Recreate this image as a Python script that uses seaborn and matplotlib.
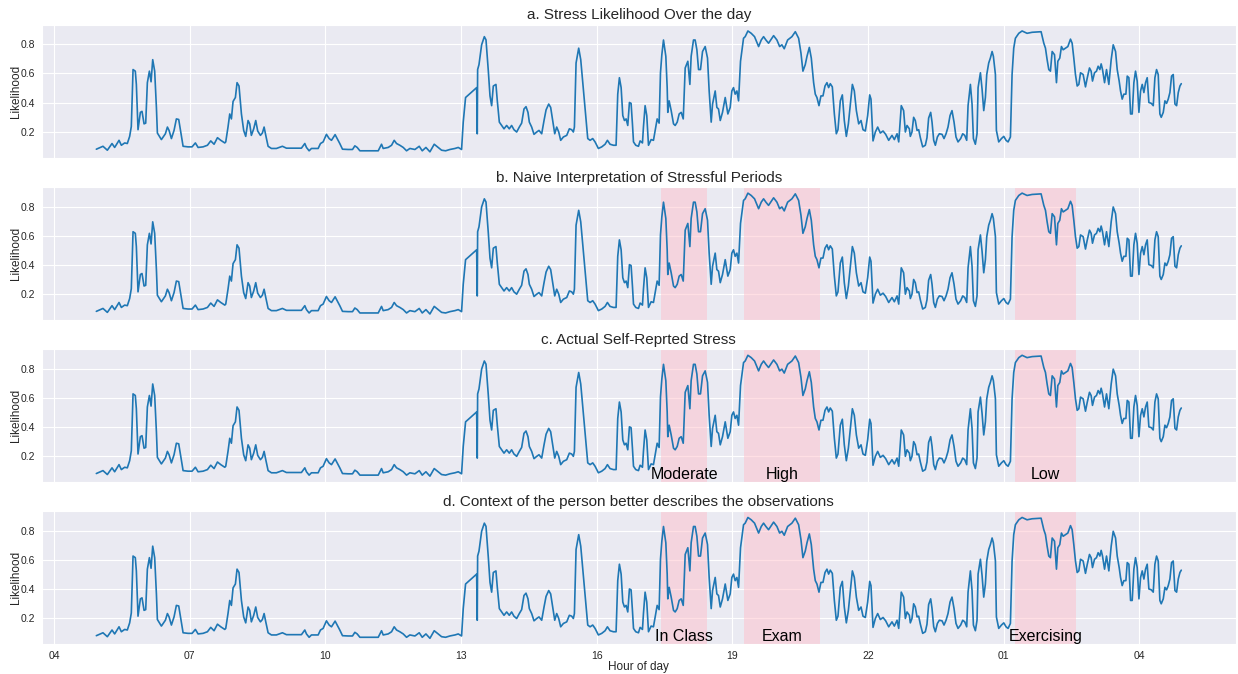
import pandas as pd
import matplotlib
matplotlib.use("Agg")
import matplotlib.pyplot as plt
import matplotlib.dates as mdates
import seaborn as sns

# minutes after 04:00 of the first day
minutes = [
    56.3, 65.1, 70.9, 77.1, 80.6, 86.4, 89.5, 93.9, 97.4, 100.5, 102.7, 105.0, 108.0, 109.4,
    111.6, 114.7, 116.9, 119.6, 121.8, 124.0, 126.7, 128.9, 131.1, 133.7, 136.0, 137.3, 140.4,
    142.6, 147.9, 150.6, 152.8, 155.9, 159.4, 162.5, 165.6, 168.3, 171.4, 178.0, 183.3, 187.7,
    191.3, 197.9, 203.7, 208.1, 212.5, 217.0, 221.4, 226.7,
    228.0, 231.0, 233.3, 235.5, 237.7, 240.8, 243.0, 245.6, 248.8, 251.8, 254.5, 257.6, 259.8,
    262.0, 265.1, 267.8, 270.4, 274.0, 276.6, 278.9, 281.1, 284.2, 288.6, 295.2, 303.2, 308.5,
    317.4, 328.4, 332.9, 335.1, 338.6, 341.7, 350.6, 353.7, 357.2, 361.6, 365.2, 368.3, 373.1,
    375.8, 379.3, 382.9, 390.4, 396.2, 399.3, 402.4, 406.0, 410.4,
    417.0, 430.3, 434.7, 436.9, 443.5, 448.0, 451.5, 454.6, 459.0, 463.5, 467.9, 472.3, 479.0,
    484.7, 488.7, 493.6, 498.9, 504.6, 509.0, 514.4, 519.7, 525.4, 532.1, 536.5, 540.9, 543.1,
    546.2, 560.9, 561.7, 562.2, 564.0, 567.5, 571.1, 573.3, 576.4, 578.6, 580.8,
    583.0, 586.5, 588.3, 591.0, 594.1, 597.2, 600.7, 604.2, 607.3, 610.4, 614.0, 617.5, 620.6,
    623.7, 626.4, 629.0, 630.8, 633.9, 637.0, 640.6, 643.6, 647.2, 650.3, 653.0, 656.5, 659.1,
    661.8, 664.5, 667.1, 669.8, 672.4, 676.0, 680.4, 683.9, 687.0, 689.2, 690.6, 692.8, 696.3,
    699.0, 702.5, 706.1, 708.3, 711.4, 714.9, 718.0, 722.4, 726.9, 731.3, 734.4, 737.9, 742.4,
    745.9, 748.1, 750.3, 752.6, 754.8, 757.0, 759.2, 761.4, 763.6, 765.8,
    767.6, 769.0, 772.0, 775.6, 777.8, 780.9, 782.2, 784.4, 786.6, 788.9, 792.4, 795.5, 797.7,
    800.4, 803.0, 804.8, 806.6, 808.8, 811.9, 813.7, 814.5, 816.3, 819.0, 822.1, 824.3, 827.0,
    829.6, 832.3, 835.0, 837.6, 841.1, 843.8, 845.5, 848.6, 850.8, 853.1, 855.3, 857.9, 860.6,
    864.1, 867.2, 869.4, 872.1, 873.9, 877.4, 879.6, 881.8, 884.1, 887.1, 890.7, 894.2, 897.3,
    899.5, 901.7, 903.9, 906.2, 908.4, 911.0, 915.0, 917.2, 920.8, 925.2, 929.6, 935.0, 938.5,
    941.6, 944.7,
    948.2, 954.9, 959.3, 962.9, 965.9, 969.0, 973.5, 979.2, 983.7, 988.1, 991.2, 993.8, 996.9,
    999.2, 1002.3, 1004.9, 1008.0, 1010.2, 1012.4, 1015.1, 1017.7, 1020.4, 1023.1, 1025.7,
    1027.9, 1030.1, 1032.8, 1035.5, 1038.1, 1040.3, 1043.4, 1046.1, 1048.7, 1051.4, 1054.1,
    1056.7, 1059.4, 1062.0, 1064.7, 1067.8, 1070.9, 1073.5, 1076.6, 1079.7, 1082.4, 1084.1,
    1086.8, 1089.9, 1093.0, 1096.5, 1100.1, 1103.6, 1107.6, 1112.0, 1115.1, 1118.7, 1120.9,
    1124.3, 1127.4, 1129.7, 1131.9, 1135.0, 1136.3, 1138.5, 1140.7, 1142.9, 1145.2, 1147.4,
    1149.6, 1152.7, 1156.2, 1158.4, 1160.6, 1163.3, 1165.1, 1167.3, 1169.5, 1172.2, 1174.8,
    1178.4, 1181.0, 1183.7, 1186.3, 1189.0, 1191.6, 1194.3, 1196.9, 1199.6, 1203.1, 1205.8,
    1208.5, 1211.1, 1212.9, 1216.0, 1218.2, 1220.0, 1222.6, 1224.8, 1226.2, 1229.3, 1231.5,
    1233.7, 1235.9, 1237.7, 1240.3, 1242.5, 1244.8, 1246.5, 1249.2, 1250.5, 1253.6, 1257.2,
    1260.3, 1263.3, 1266.0, 1269.1, 1271.3, 1273.5, 1275.7, 1280.2, 1284.6, 1291.2, 1297.9,
    1309.8, 1313.4, 1315.6, 1317.8, 1320.0, 1322.2, 1324.5, 1327.6, 1330.2, 1332.0, 1334.6,
    1336.8, 1339.1, 1342.2, 1345.3, 1348.8, 1351.0, 1353.2, 1355.4, 1357.7, 1359.9, 1362.1,
    1365.6, 1368.7, 1370.9, 1374.0, 1376.2, 1378.0, 1380.7, 1383.3, 1385.5, 1387.8, 1389.5,
    1391.3, 1394.0, 1396.6, 1399.7, 1402.8, 1405.5, 1408.6, 1410.8, 1413.4, 1415.2, 1417.4,
    1419.6, 1422.3, 1424.1, 1426.3, 1428.5, 1430.7, 1432.9, 1435.1, 1437.3, 1439.6, 1441.8,
    1444.0, 1446.2, 1448.4, 1450.6, 1452.8, 1456.0, 1458.6, 1460.8, 1463.0, 1465.2, 1467.4,
    1469.2, 1471.9, 1474.1, 1476.3, 1478.5, 1480.7, 1482.9, 1485.1, 1487.4, 1489.6, 1491.8,
    1494.0, 1495.8,
]

likelihood = [
    .080, .100, .073, .119, .092, .141, .107, .123, .119, .168, .236, .627, .616, .525,
    .214, .333, .340, .254, .259, .537, .616, .543, .695, .616, .367, .191, .164,
    .146, .186, .232, .209, .153, .209, .288, .284, .198, .100, .096, .096, .123,
    .092, .096, .107, .137, .114, .159, .141, .123,
    .130, .232, .322, .288, .408, .435, .537, .514, .322, .209, .168, .277, .254,
    .175, .220, .277, .205, .175, .191, .232, .175, .100, .085, .085, .100, .087,
    .087, .087, .119, .092, .069, .085, .085, .119, .130, .182, .153, .141, .180,
    .153, .119, .080, .078, .078, .103, .092, .069, .069,
    .069, .069, .114, .085, .092, .107, .141, .119, .107, .092, .069, .085, .078,
    .100, .069, .092, .062, .114, .096, .073, .069, .078, .085, .092, .078, .266,
    .435, .503, .186, .627, .661, .797, .853, .831, .616, .446, .379,
    .514, .525, .412, .266, .243, .220, .243, .220, .243, .214, .198, .232, .259,
    .356, .372, .333, .266, .232, .182, .198, .209, .186, .277, .350, .390, .367,
    .277, .186, .232, .198, .141, .164, .175, .220, .214, .198, .232, .672, .774,
    .695, .492, .277, .153, .141, .153, .130, .085, .096, .114, .141, .114, .107,
    .107, .458, .571, .503, .311, .277, .288, .243, .401, .395,
    .254, .130, .107, .100, .137, .123, .232, .379, .311, .107, .146, .141, .209,
    .288, .259, .605, .729, .830, .718, .503, .333, .412, .345, .254, .243, .266,
    .322, .333, .288, .638, .684, .525, .718, .830, .830, .763, .627, .627, .751,
    .785, .706, .480, .266, .390, .480, .367, .356, .277, .333, .435, .322, .367,
    .480, .503, .458, .480, .412, .684, .842, .853, .892, .876, .853, .785, .830,
    .853, .830,
    .808, .860, .830, .785, .797, .770, .830, .853, .887, .842, .740, .616, .661,
    .718, .779, .706, .537, .458, .435, .379, .446, .446, .514, .537,
    .503, .530, .508, .322, .186, .214, .412, .453, .277, .168, .254,
    .390, .525, .480, .345, .254, .277, .214, .205, .311, .453, .424,
    .137, .198, .232, .191, .205, .182, .141, .175, .146, .186, .130,
    .379, .345, .198, .243, .220, .168, .198, .299, .277, .209, .214,
    .159, .096, .107, .159, .294, .333, .266, .141, .107, .164, .186,
    .182, .153, .186, .232, .311, .345, .266, .164, .130, .153, .186,
    .175, .141, .379, .525, .390, .153, .114, .186, .503, .605, .492,
    .345, .435, .593, .672, .706, .751, .718, .593, .209, .130, .153,
    .168, .141, .130, .164, .593, .774, .842, .876, .892, .876, .883,
    .887, .808, .774, .695, .627, .616, .751, .729, .537, .684, .706,
    .785, .763, .774, .785, .836, .808, .706, .593, .514, .525, .605,
    .593, .508, .566, .638, .616, .548, .605, .616, .650, .627, .666,
    .627, .537, .627, .525, .695, .797, .751, .627, .548, .480, .424,
    .458, .458, .582, .571, .322, .322, .537, .616, .548, .333, .480,
    .525, .469, .537, .571, .401, .395, .379, .571, .627, .593, .322,
    .299, .333, .412, .395, .424, .469, .582, .593, .390, .379, .469,
    .514, .530,
]

titles = [
    "a. Stress Likelihood Over the day",
    "b. Naive Interpretation of Stressful Periods",
    "c. Actual Self-Reprted Stress",
    "d. Context of the person better describes the observations",
]

# highlighted periods (minutes after 04:00)
span_start = [806, 915, 1275]
span_end = [867, 1017, 1356]
stress_labels = ["Moderate", "High", "Low"]
context_labels = ["In Class", "Exam", "Exercising"]

base = pd.Timestamp("2023-01-01 04:00")
df = pd.DataFrame({
    "time": base + pd.to_timedelta(minutes, unit="min"),
    "likelihood": likelihood,
})

sns.set_style("darkgrid")
plt.rcParams["font.family"] = ["Liberation Sans", "DejaVu Sans"]

fig, axes = plt.subplots(4, 1, figsize=(12.38, 6.74), dpi=100, sharex=True)
fig.subplots_adjust(left=0.034, right=0.998, top=0.963, bottom=0.044, hspace=0.22)

for i, ax in enumerate(axes):
    sns.lineplot(data=df, x="time", y="likelihood", ax=ax, color="#1f77b4", linewidth=1.2)
    ax.set_title(titles[i], fontsize=11, pad=4)
    ax.set_ylabel("Likelihood", fontsize=8.5, labelpad=-1)
    ax.set_xlabel("")
    ax.set_yticks([0.2, 0.4, 0.6, 0.8])
    ax.tick_params(labelsize=7.5, pad=1.5)

    if i >= 1:
        for s, e in zip(span_start, span_end):
            ax.axvspan(base + pd.Timedelta(minutes=s), base + pd.Timedelta(minutes=e),
                       color="pink", alpha=0.5, lw=0)
    if i >= 2:
        names = stress_labels if i == 2 else context_labels
        for s, e, name in zip(span_start, span_end, names):
            mid = base + pd.Timedelta(minutes=(s + e) / 2)
            ax.text(mid, 0.075, name, ha="center", va="center", fontsize=11.5, color="black")

axes[-1].xaxis.set_major_locator(mdates.HourLocator(byhour=[1, 4, 7, 10, 13, 16, 19, 22]))
axes[-1].xaxis.set_major_formatter(mdates.DateFormatter("%H"))
axes[-1].set_xlabel("Hour of day", fontsize=8.5, labelpad=0)

plt.savefig("out.png", dpi=100)
plt.close()
